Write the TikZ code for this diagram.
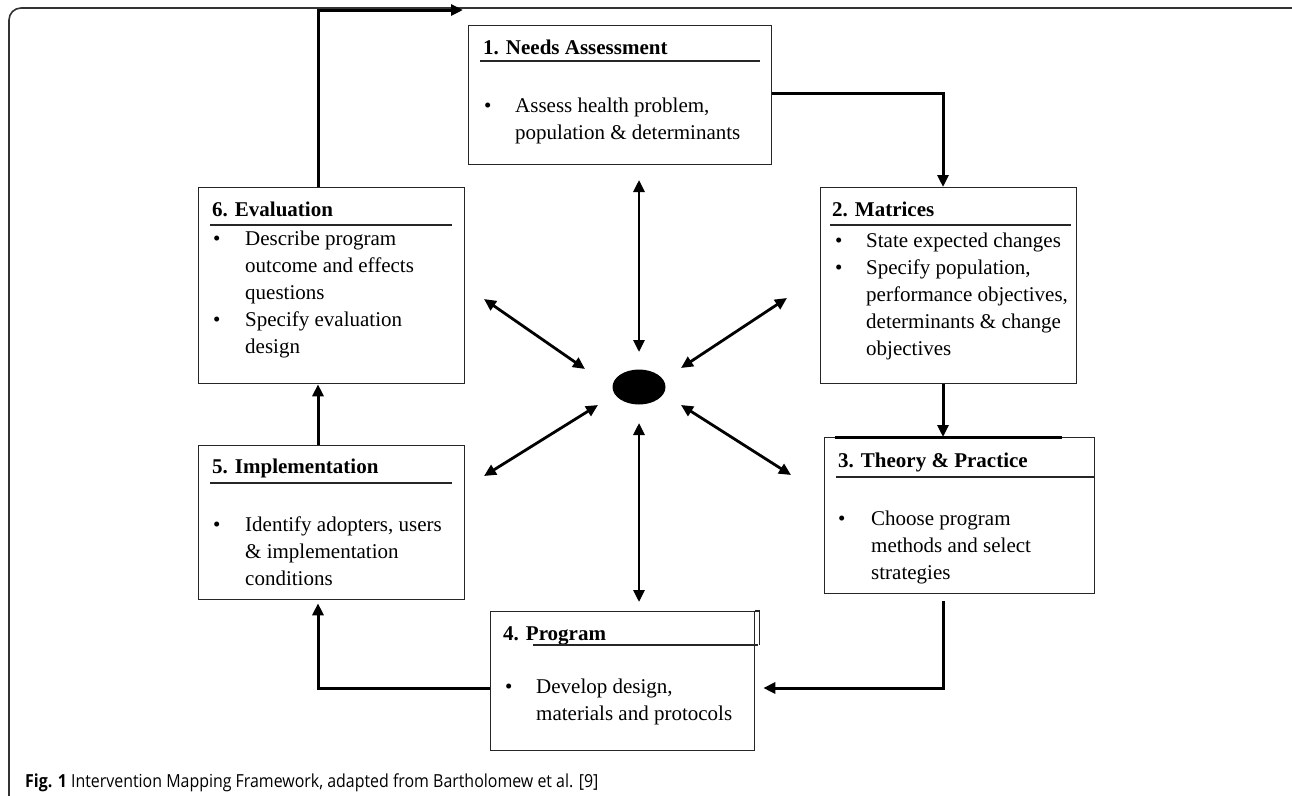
\documentclass[tikz,border=0pt]{standalone}
\usepackage{fontspec}
\setmainfont{Liberation Serif}
\newfontfamily\capfont{Open Sans}
\usetikzlibrary{shapes.geometric,arrows.meta}

\begin{document}
\begin{tikzpicture}[x=1pt,y=-1pt]
      \useasboundingbox (0,0) rectangle (1292,795);
      \tikzset{B/.style = {draw=black!85, line width=1.3pt, anchor=north west, inner sep=0pt}}
      \tikzset{T/.style = {anchor=base west, inner sep=0pt, font=\fontsize{21}{27}\selectfont\bfseries}}
      \tikzset{X/.style = {anchor=base west, inner sep=0pt, align=left, font=\fontsize{21}{27}\selectfont}}
      \tikzset{D/.style = {anchor=base west, inner sep=0pt, font=\fontsize{21}{27}\selectfont}}
      \tikzset{U/.style = {draw=black!85, line width=1.3pt}}
      \tikzset{F/.style = {draw, line width=3pt, -{Triangle[length=12pt,width=11pt]}}}
      \tikzset{W/.style = {draw, line width=2.8pt, {Triangle[length=12pt,width=11pt]}-{Triangle[length=12pt,width=11pt]}}}
      % frame
      \begin{scope}
        \clip (0,0) rectangle (1292,795);
        \draw[black!80, line width=1.6pt, rounded corners=12pt] (9,8) rectangle (1305,810);
      \end{scope}
      % boxes
      \node[B, minimum width=303pt, minimum height=139pt](b1) at (468,25) {};
      \node[B, minimum width=256pt, minimum height=196pt](b2) at (820,187) {};
      \node[B, minimum width=270pt, minimum height=156pt](b3) at (824,437) {};
      \node[B, minimum width=264pt, minimum height=139pt](b4) at (490,611) {};
      \node[B, minimum width=266pt, minimum height=154pt](b5) at (198,445) {};
      \node[B, minimum width=266pt, minimum height=196pt](b6) at (198,187) {};
      % titles
      \node[T](t1) at (483,54) {1. Needs Assessment};
      \node[T](t2) at (832,216) {2. Matrices};
      \node[T](t3) at (838,467) {3. Theory \& Practice};
      \node[T](t4) at (503,640) {4. Program};
      \node[T](t5) at (212,473) {5. Implementation};
      \node[T](t6) at (212,216) {6. Evaluation};
      \draw[U] (480,61) -- (760,61);
      \draw[U] (830,225) -- (1071,225);
      \draw[U] (836,477) -- (1094,477);
      \draw[U] (533,645) -- (758,645);
      \draw[U] (210,483) -- (452,483);
      \draw[U] (210,225) -- (452,225);
      \draw[line width=3pt] (835,437) -- (1062,437);
      \draw[U] (b4.north east) -- ++(4,0) -- ++(0,34);
      % bullets
      \node[D](d1) at (484,112) {\textbullet};
      \node[D](d2a) at (835,247) {\textbullet};
      \node[D](d2b) at (835,274) {\textbullet};
      \node[D](d3) at (838,525) {\textbullet};
      \node[D](d4) at (505,693) {\textbullet};
      \node[D](d5) at (213,531) {\textbullet};
      \node[D](d6a) at (213,245) {\textbullet};
      \node[D](d6b) at (213,326) {\textbullet};
      % texts (placed at the baseline of their last line)
      \node[X](x1) at (515,139) {Assess health problem,\\population \& determinants};
      \node[X](x2) at (866,355) {State expected changes\\Specify population,\\performance objectives,\\determinants \& change\\objectives};
      \node[X](x3) at (871,579) {Choose program\\methods and select\\strategies};
      \node[X](x4) at (536,720) {Develop design,\\materials and protocols};
      \node[X](x5) at (245,585) {Identify adopters, users\\\& implementation\\conditions};
      \node[X](x6) at (245,353) {Describe program\\outcome and effects\\questions\\Specify evaluation\\design};
      % cycle
      \coordinate (c12) at (943,93);
      \coordinate (c34) at (943,688);
      \coordinate (c45) at (318,688);
      \coordinate (c61) at (318,10);
      \draw[F] (c12 -| b1.east) -- (c12) -- (c12 |- b2.north);
      \draw[F] (c12 |- b2.south) -- (c12 |- b3.north);
      \draw[F,shorten <=7pt,shorten >=8pt] (c34 |- b3.south) -- (c34) -- (c34 -| b4.east);
      \draw[F,shorten >=3pt] (c45 -| b4.west) -- (c45) -- (c45 |- b5.south);
      \draw[F] (c45 |- b5.north) -- (c45 |- b6.south);
      \draw[F,shorten >=5pt] (c61 |- b6.north) -- (c61) -- (c61 -| b1.west);
      % hub
      \node[ellipse, fill=black, minimum width=53pt, minimum height=35pt, inner sep=0pt](hub) at (639,387) {};
      \coordinate (n0) at (639,180);
      \coordinate (n1) at (639,352);
      \coordinate (s0) at (639,602);
      \coordinate (s1) at (639,423);
      \coordinate (nw0) at (484,299);
      \coordinate (nw1) at (585,369);
      \coordinate (ne0) at (787,298);
      \coordinate (ne1) at (681,368);
      \coordinate (sw0) at (484,476);
      \coordinate (sw1) at (598,405);
      \coordinate (se0) at (791,475);
      \coordinate (se1) at (681,405);
      \draw[W] (n0) -- (n1);
      \draw[W] (s0) -- (s1);
      \draw[W] (nw0) -- (nw1);
      \draw[W] (ne0) -- (ne1);
      \draw[W] (sw0) -- (sw1);
      \draw[W] (se0) -- (se1);
      % caption
      \node[anchor=base west, inner sep=0pt, font=\capfont\fontsize{18}{21}\selectfont](cap) at (25,787) {\scalebox{0.885}[1]{\textbf{Fig. 1} Intervention Mapping Framework, adapted from Bartholomew et al. [9]}};
\end{tikzpicture}
\end{document}
